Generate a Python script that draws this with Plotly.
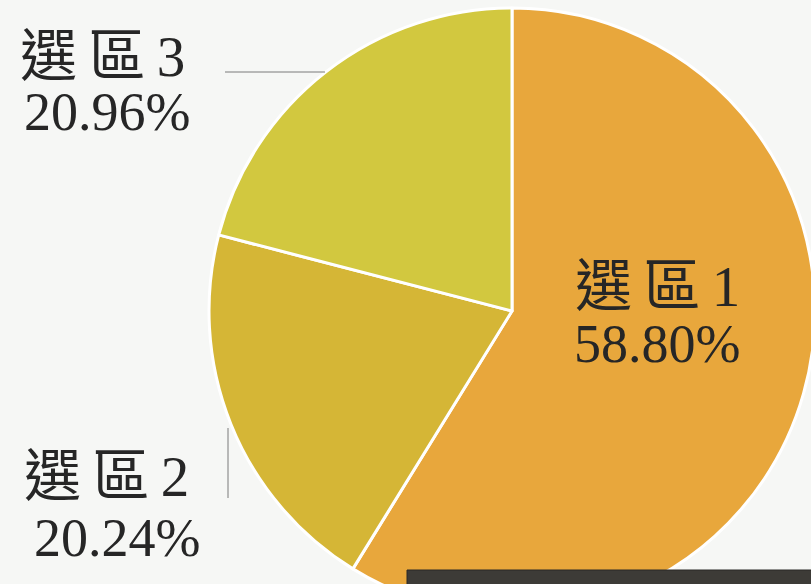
import plotly.graph_objects as go

# data
districts = ["選區1", "選區2", "選區3"]
shares = [58.80, 20.24, 20.96]
colors = ["#E8A73C", "#D5B636", "#D2C83F"]

W, H = 830, 630
cx, cy, r = 512, 311, 303  # pixel geometry of the pie

fig = go.Figure(go.Pie(
    labels=districts,
    values=shares,
    sort=False,
    direction="clockwise",
    rotation=0,
    marker=dict(colors=colors, line=dict(color="#FFFFFF", width=3)),
    textinfo="none",
    hoverinfo="label+percent",
    showlegend=False,
    domain=dict(x=[(cx - r) / W, (cx + r) / W], y=[(H - cy - r) / H, (H - cy + r) / H]),
))

font_cjk = "Liberation Serif, Noto Sans CJK TC, serif"
txt_color = "#262626"

# label positions (pixels): name line centre, percent line centre
label_pos = {
    "選區1": ((657, 287), (657, 344)),
    "選區2": ((106, 476), (117, 538)),
    "選區3": ((102, 56), (107, 112)),
}

annotations = []
for name, val in zip(districts, shares):
    (nx, ny), (px, py) = label_pos[name]
    spaced = "\u2009".join(name)
    annotations.append(dict(x=nx / W, y=1 - ny / H, xref="paper", yref="paper",
                            text=spaced, showarrow=False, xanchor="center", yanchor="middle",
                            font=dict(family=font_cjk, size=57, color=txt_color)))
    annotations.append(dict(x=px / W, y=1 - py / H, xref="paper", yref="paper",
                            text=f"{val:.2f}%", showarrow=False, xanchor="center", yanchor="middle",
                            font=dict(family=font_cjk, size=54, color=txt_color)))

shapes = [
    # leader line for 選區3
    dict(type="line", xref="paper", yref="paper", x0=225 / W, x1=325 / W,
         y0=1 - 72 / H, y1=1 - 72 / H, line=dict(color="#7A7A7A", width=1)),
    # leader line for 選區2
    dict(type="line", xref="paper", yref="paper", x0=228 / W, x1=228 / W,
         y0=1 - 428 / H, y1=1 - 498 / H, line=dict(color="#7A7A7A", width=1)),
    # dark box at the bottom
    dict(type="rect", xref="paper", yref="paper", x0=407 / W, x1=1,
         y0=0, y1=1 - 570 / H, line=dict(color="#2A2926", width=1), fillcolor="#3D3B37"),
]

fig.update_layout(
    width=W, height=H,
    margin=dict(l=0, r=0, t=0, b=0),
    paper_bgcolor="#F6F7F5",
    plot_bgcolor="#F6F7F5",
    annotations=annotations,
    shapes=shapes,
)

fig.write_html("out.html",
               config={"displayModeBar": False},
               post_script="document.body.style.margin='0';document.body.style.overflow='hidden';")
